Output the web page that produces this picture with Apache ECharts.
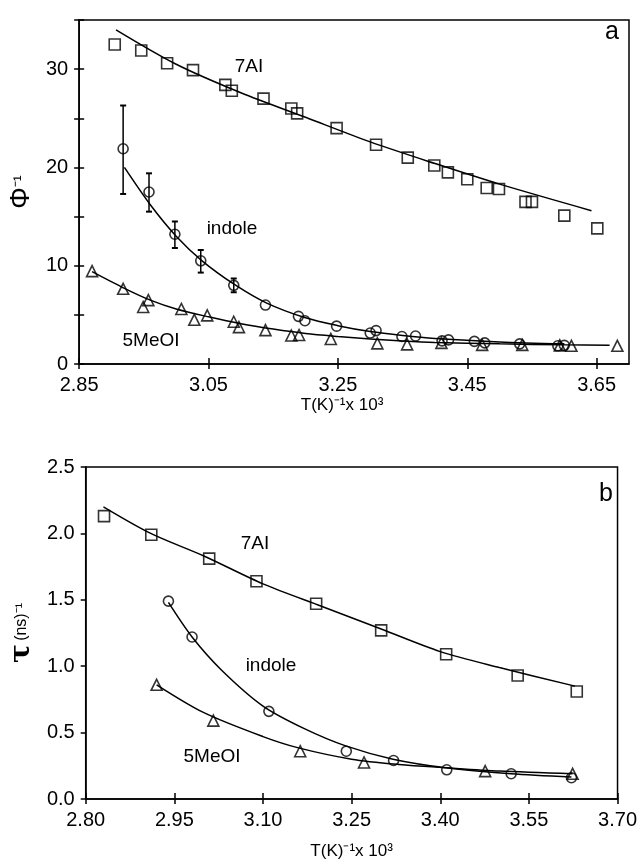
<!DOCTYPE html>
<html>
<head>
<meta charset="utf-8">
<script src="https://cdn.jsdelivr.net/npm/echarts@6/dist/echarts.min.js"></script>
<style>
html, body { margin: 0; padding: 0; background: #fff; }
#main { width: 640px; height: 861px; }
</style>
</head>
<body>
<div id="main"></div>
<script>
// panel a : inverse quantum yield vs 1/T
var aXTicks = [2.85, 3.05, 3.25, 3.45, 3.65];
var aYTicks = [0, 5, 10, 15, 20, 25, 30, 35];
var aYLabels = [0, 10, 20, 30];

var a7AI = [[2.905,32.5],[2.946,31.9],[2.986,30.6],[3.026,29.9],[3.076,28.4],[3.086,27.8],[3.135,27.0],
    [3.178,26.0],[3.187,25.5],[3.248,24.0],[3.309,22.3],[3.358,21.0],[3.399,20.2],[3.420,19.5],[3.450,18.8],
    [3.480,17.9],[3.499,17.8],[3.540,16.5],[3.550,16.5],[3.600,15.1],[3.651,13.8]];
var a7AIFit = [[2.907,34.0],[3.0,30.5],[3.1,27.6],[3.2,25.1],[3.3,22.6],[3.4,20.4],[3.5,18.3],[3.642,15.6]];

var aIndole = [[2.918,21.9],[2.958,17.5],[2.998,13.2],[3.038,10.5],[3.089,8.0],[3.138,6.0],[3.189,4.85],
    [3.199,4.4],[3.248,3.85],[3.300,3.15],[3.309,3.4],[3.349,2.8],[3.370,2.85],[3.411,2.35],[3.421,2.45],
    [3.461,2.3],[3.477,2.15],[3.531,2.05],[3.590,1.85],[3.600,1.9]];
var aIndoleErr = [[2.918,17.3,26.3],[2.958,15.5,19.4],[2.998,11.8,14.5],[3.038,9.3,11.6],[3.089,7.3,8.7]];
var aIndoleFit = [[2.92,20.0],[2.96,16.2],[3.0,13.0],[3.04,10.5],[3.09,8.1],[3.14,6.2],[3.2,4.7],[3.25,3.9],
    [3.3,3.3],[3.35,2.9],[3.4,2.6],[3.5,2.25],[3.6,2.05]];

var a5MeOI = [[2.870,9.45],[2.918,7.65],[2.949,5.8],[2.957,6.5],[3.008,5.6],[3.028,4.5],[3.048,4.95],[3.089,4.3],
    [3.097,3.75],[3.138,3.45],[3.178,2.9],[3.190,2.95],[3.239,2.55],[3.311,2.1],[3.357,2.0],[3.410,2.15],
    [3.473,1.95],[3.535,1.95],[3.593,1.9],[3.611,1.85],[3.682,1.85]];
var a5MeOIFit = [[2.87,9.4],[2.92,7.7],[2.96,6.5],[3.0,5.6],[3.05,4.8],[3.1,4.1],[3.15,3.55],[3.2,3.1],
    [3.25,2.8],[3.3,2.55],[3.35,2.35],[3.4,2.2],[3.5,2.05],[3.6,1.95],[3.67,1.92]];

// panel b : inverse lifetime vs 1/T
var bXTicks = [2.80, 2.95, 3.10, 3.25, 3.40, 3.55, 3.70];
var bYTicks = [0, 0.5, 1.0, 1.5, 2.0, 2.5];

var b7AI = [[2.831,2.13],[2.911,1.99],[3.009,1.81],[3.089,1.64],[3.190,1.47],[3.300,1.27],[3.410,1.09],
    [3.531,0.93],[3.631,0.81]];
var b7AIFit = [[2.83,2.20],[2.91,2.00],[3.0,1.83],[3.1,1.62],[3.2,1.45],[3.3,1.28],[3.4,1.11],[3.5,0.99],[3.628,0.85]];

var bIndole = [[2.940,1.49],[2.980,1.22],[3.110,0.66],[3.241,0.36],[3.321,0.29],[3.411,0.22],[3.520,0.19],[3.622,0.16]];
var bIndoleFit = [[2.94,1.48],[2.98,1.22],[3.03,0.97],[3.1,0.70],[3.17,0.53],[3.24,0.40],[3.32,0.30],[3.41,0.235],
    [3.52,0.19],[3.622,0.165]];

var b5MeOI = [[2.920,0.86],[3.016,0.59],[3.163,0.36],[3.271,0.275],[3.476,0.21],[3.624,0.19]];
var b5MeOIFit = [[2.92,0.86],[3.0,0.65],[3.1,0.47],[3.16,0.385],[3.25,0.30],[3.33,0.26],[3.41,0.235],[3.5,0.21],[3.624,0.19]];

var FONT = 'Liberation Sans, Arial, Helvetica, sans-serif';
var BLACK = '#000';

function fitLine(data, g) {
    return {
        type: 'line', data: data, xAxisIndex: g * 2, yAxisIndex: g * 2,
        showSymbol: false, smooth: 0.3, silent: true,
        lineStyle: { color: BLACK, width: 1.5 }, z: 2
    };
}
function markers(data, g, sym) {
    return {
        type: 'scatter', data: data, xAxisIndex: g * 2, yAxisIndex: g * 2,
        symbol: sym, symbolSize: sym === 'circle' ? 10 : 11, silent: true,
        itemStyle: { color: 'rgba(255,255,255,0)', borderColor: BLACK, borderWidth: 1.6 }, z: 3
    };
}
function fmt(d) { return function (v) { return v.toFixed(d); }; }

function mainX(g, min, max, ticks, nameGap) {
    return {
        gridIndex: g, type: 'value', min: min, max: max, position: 'bottom',
        axisLine: { lineStyle: { color: BLACK, width: 1.5 } },
        axisTick: { customValues: ticks, length: 5, lineStyle: { color: BLACK, width: 1.5 } },
        axisLabel: { customValues: ticks, formatter: fmt(2), color: BLACK, fontSize: 20, fontFamily: FONT, margin: 11 },
        splitLine: { show: false },
        name: 'T(K)⁻¹x 10³', nameLocation: 'middle', nameGap: nameGap,
        nameTextStyle: { color: BLACK, fontSize: 17, fontFamily: FONT }
    };
}
function overX(g, min, max, ticks) {
    return {
        gridIndex: g, type: 'value', min: min, max: max, position: 'bottom',
        axisLine: { show: false },
        axisTick: { inside: true, customValues: ticks, length: 6, lineStyle: { color: BLACK, width: 1.5 } },
        axisLabel: { show: false }, splitLine: { show: false }
    };
}

var option = {
    backgroundColor: '#fff',
    animation: false,
    grid: [
        { left: 68, top: 20, width: 561, height: 344, show: true, borderColor: BLACK, borderWidth: 1.5 },
        { left: 84, top: 467, width: 535, height: 333, show: true, borderColor: BLACK, borderWidth: 1.5 }
    ],
    xAxis: [
        Object.assign(mainX(0, 2.85, 3.70, aXTicks, 33), { nameTextStyle: { color: BLACK, fontSize: 17, fontFamily: FONT, padding: [0, 24, 0, 0] } }),
        overX(0, 2.85, 3.70, aXTicks),
        mainX(1, 2.80, 3.70, bXTicks, 44),
        overX(1, 2.80, 3.70, bXTicks)
    ],
    yAxis: [
        {
            gridIndex: 0, type: 'value', min: 0, max: 35, position: 'left',
            axisLine: { lineStyle: { color: BLACK, width: 1.5 } },
            axisTick: { customValues: aYTicks, length: 5, lineStyle: { color: BLACK, width: 1.5 } },
            axisLabel: { customValues: aYLabels, color: BLACK, fontSize: 20, fontFamily: FONT, margin: 11 },
            splitLine: { show: false },
            name: '{p|Φ}{s|⁻¹}', nameLocation: 'middle', nameGap: 26, nameRotate: 90,
            nameTextStyle: {
                color: BLACK, fontFamily: FONT,
                rich: {
                    p: { fontSize: 27, color: BLACK, fontFamily: FONT },
                    s: { fontSize: 18, color: BLACK, fontFamily: FONT }
                }
            }
        },
        {
            gridIndex: 0, type: 'value', min: 0, max: 35, position: 'left',
            axisLine: { show: false },
            axisTick: { inside: true, customValues: aYTicks, length: 5, lineStyle: { color: BLACK, width: 1.5 } },
            axisLabel: { show: false }, splitLine: { show: false }
        },
        {
            gridIndex: 1, type: 'value', min: 0, max: 2.5, position: 'left',
            axisLine: { lineStyle: { color: BLACK, width: 1.5 } },
            axisTick: { customValues: bYTicks, length: 5, lineStyle: { color: BLACK, width: 1.5 } },
            axisLabel: { customValues: bYTicks, formatter: fmt(1), color: BLACK, fontSize: 20, fontFamily: FONT, margin: 11 },
            splitLine: { show: false },
            name: '{t|τ} {n|(ns)⁻¹}', nameLocation: 'middle', nameGap: 48, nameRotate: 90,
            nameTextStyle: {
                color: BLACK, fontFamily: FONT,
                rich: {
                    t: { fontSize: 28, fontWeight: 'bold', color: BLACK, fontFamily: 'DejaVu Serif, serif' },
                    n: { fontSize: 16, color: BLACK, fontFamily: FONT }
                }
            }
        },
        {
            gridIndex: 1, type: 'value', min: 0, max: 2.5, position: 'left',
            axisLine: { show: false },
            axisTick: { show: false }, axisLabel: { show: false }, splitLine: { show: false }
        }
    ],
    graphic: [
        { type: 'text', x: 612, y: 32, style: { text: 'a', fontSize: 25, fontFamily: FONT, fill: BLACK, align: 'center', verticalAlign: 'middle' } },
        { type: 'text', x: 606, y: 494, style: { text: 'b', fontSize: 25, fontFamily: FONT, fill: BLACK, align: 'center', verticalAlign: 'middle' } },
        { type: 'text', x: 249, y: 67, style: { text: '7AI', fontSize: 19, fontFamily: FONT, fill: BLACK, align: 'center', verticalAlign: 'middle' } },
        { type: 'text', x: 232, y: 229, style: { text: 'indole', fontSize: 19, fontFamily: FONT, fill: BLACK, align: 'center', verticalAlign: 'middle' } },
        { type: 'text', x: 151, y: 341, style: { text: '5MeOI', fontSize: 19, fontFamily: FONT, fill: BLACK, align: 'center', verticalAlign: 'middle' } },
        { type: 'text', x: 255, y: 544, style: { text: '7AI', fontSize: 19, fontFamily: FONT, fill: BLACK, align: 'center', verticalAlign: 'middle' } },
        { type: 'text', x: 271, y: 666, style: { text: 'indole', fontSize: 19, fontFamily: FONT, fill: BLACK, align: 'center', verticalAlign: 'middle' } },
        { type: 'text', x: 212, y: 757, style: { text: '5MeOI', fontSize: 19, fontFamily: FONT, fill: BLACK, align: 'center', verticalAlign: 'middle' } }
    ],
    series: [
        fitLine(a7AIFit, 0), fitLine(aIndoleFit, 0), fitLine(a5MeOIFit, 0),
        markers(a7AI, 0, 'rect'), markers(aIndole, 0, 'circle'), markers(a5MeOI, 0, 'triangle'),
        {
            type: 'custom', xAxisIndex: 0, yAxisIndex: 0, data: aIndoleErr, silent: true, z: 2,
            encode: { x: 0, y: [1, 2] },
            renderItem: function (params, api) {
                var lo = api.coord([api.value(0), api.value(1)]);
                var hi = api.coord([api.value(0), api.value(2)]);
                var w = 3;
                var st = { stroke: BLACK, lineWidth: 1.5 };
                return {
                    type: 'group', children: [
                        { type: 'line', shape: { x1: lo[0], y1: lo[1], x2: hi[0], y2: hi[1] }, style: st },
                        { type: 'line', shape: { x1: lo[0] - w, y1: lo[1], x2: lo[0] + w, y2: lo[1] }, style: { stroke: BLACK, lineWidth: 2 } },
                        { type: 'line', shape: { x1: hi[0] - w, y1: hi[1], x2: hi[0] + w, y2: hi[1] }, style: { stroke: BLACK, lineWidth: 2 } }
                    ]
                };
            }
        },
        fitLine(b7AIFit, 1), fitLine(bIndoleFit, 1), fitLine(b5MeOIFit, 1),
        markers(b7AI, 1, 'rect'), markers(bIndole, 1, 'circle'), markers(b5MeOI, 1, 'triangle')
    ]
};

var chart = echarts.init(document.getElementById('main'));
chart.setOption(option);
</script>
</body>
</html>
